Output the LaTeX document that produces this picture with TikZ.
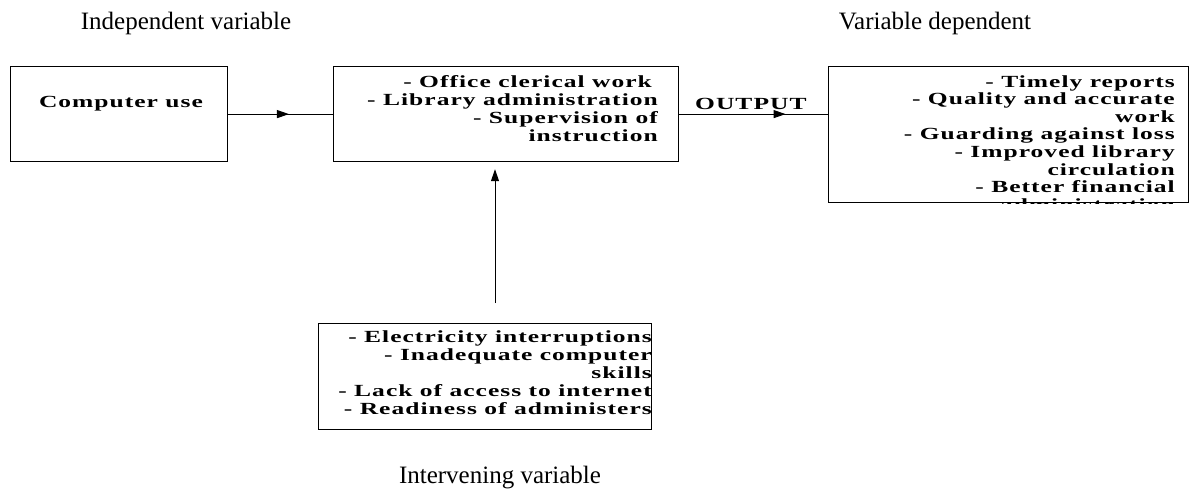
\documentclass[tikz,border=0pt]{standalone}
\usepackage{fontspec}
\setmainfont{Liberation Serif}
\newfontfamily\boxfont[FakeStretch=1.5,LetterSpace=6]{Liberation Serif Bold}
\usetikzlibrary{arrows.meta, decorations.markings}
\tikzstyle{box} = [rectangle, 
draw=black, 
line width=1.2pt, 
inner sep=0pt, 
anchor=north west]
\tikzstyle{items} = [inner sep=0pt, align=right, font=\boxfont\fontsize{17}{18}\selectfont]
\tikzstyle{caption} = [inner sep=0pt, font=\fontsize{25}{30}\selectfont]
\tikzstyle{arrow} = [line width=1pt,-{Triangle[length=12pt,width=8pt]}]
\tikzset{midarrow/.style={line width=1pt,
  decoration={markings, mark=at position #1 with {\arrow{Triangle[length=12pt,width=8pt]}}},
  postaction={decorate}}}

\begin{document}
\begin{tikzpicture}[x=1pt, y=-1pt]
  \useasboundingbox (0,0) rectangle (1192,488);

  \node (usebox) [box, minimum width=217pt, minimum height=95pt] at (10,66) {};
  \node (taskbox) [box, minimum width=345pt, minimum height=95pt] at (333,66) {};
  \node (outbox) [box, minimum width=360pt, minimum height=136pt] at (828,66) {};
  \node (issuebox) [box, minimum width=333pt, minimum height=106pt] at (318,323) {};

  \node (usetext) [items, anchor=base] at (121,107) {Computer use};
  \node (tasktext) [items, anchor=north east] at (658,75) {- Office clerical work\hspace*{6pt}\\
  - Library administration\\ - Supervision of\\ instruction};
  \begin{scope}
    \clip (outbox.north west) rectangle (outbox.south east);
    \node (outtext) [items, anchor=north east, font=\boxfont\fontsize{17}{17.6}\selectfont] at (1175,75)
    {- Timely reports\\ - Quality and accurate\\ work\\ - Guarding against loss\\
    - Improved library\\ circulation\\ - Better financial\\ administration};
  \end{scope}
  \node (issuetext) [items, anchor=north east] at (652,330) {- Electricity interruptions\\
  - Inadequate computer\\ skills\\ - Lack of access to internet\\ - Readiness of administers};

  \node (indeplabel) [caption, anchor=base] at (186,29) {Independent variable};
  \node (deplabel) [caption, anchor=base] at (935,29) {Variable dependent};
  \node (intervlabel) [caption, anchor=base] at (500,483) {Intervening variable};
  \node (outlabel) [items, anchor=base west] at (695,109) {OUTPUT};

  \draw [midarrow=0.58] (usebox.east) -- (taskbox.west);
  \draw [midarrow=0.715] (taskbox.east) -- (taskbox.east -| outbox.west);
  \coordinate (riser) at (495,0);
  \draw [arrow, shorten <=20pt, shorten >=7pt] (issuebox.north -| riser) -- (taskbox.south -| riser);

\end{tikzpicture}
\end{document}
